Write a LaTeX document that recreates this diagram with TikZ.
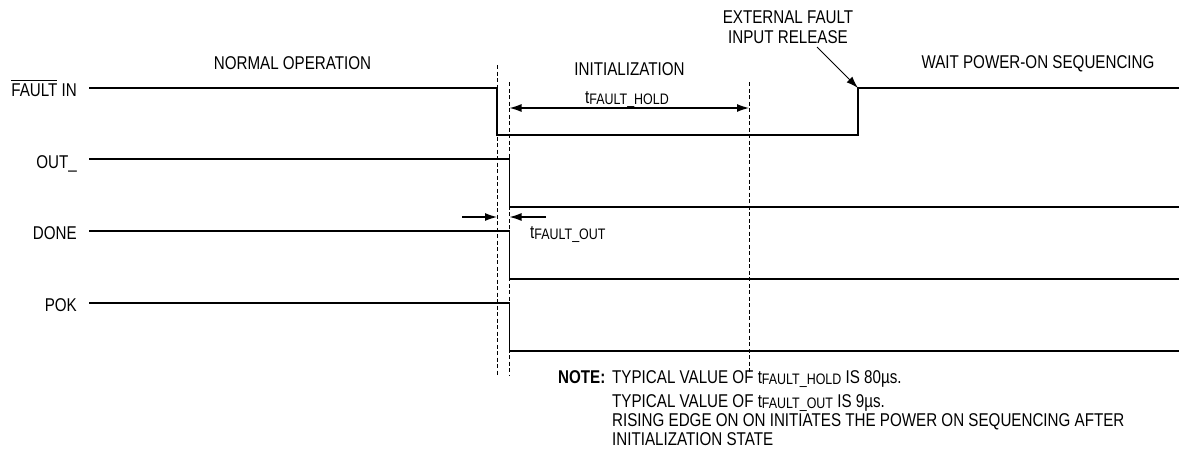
\documentclass[tikz,border=0pt]{standalone}
\usepackage{fontspec}
\setmainfont{Liberation Sans}[FakeStretch=0.82]
\usetikzlibrary{arrows.meta}
% time symbol with a smaller subscript-style name, e.g. t_FAULT_HOLD
\newcommand{\tsub}[1]{t\raisebox{-1.2pt}{\fontsize{15.2pt}{16pt}\selectfont #1}}
% active-low bar over a signal name
\newcommand{\barname}[1]{\leavevmode\vbox{\hrule height 1.1pt\kern 2.6pt\hbox{#1}}}

\begin{document}
\begin{tikzpicture}[x=1pt,y=-1pt,
  lbl/.style={inner sep=0pt, font=\fontsize{18.5pt}{20pt}\selectfont},
  sig/.style={line width=1.4pt, line join=miter},
  guide/.style={line width=0.9pt, dash pattern=on 4pt off 2.5pt},
  dimarrow/.style={line width=1.2pt, -{Latex[length=12pt,width=8pt]}},
  dimboth/.style={line width=1.2pt, {Latex[length=12pt,width=8pt]}-{Latex[length=12pt,width=8pt]}},
  callout/.style={line width=1pt, -{Latex[length=12pt,width=8pt]}}
]
\path[use as bounding box] (0,0) rectangle (1179,466);

% signal names
\node[lbl, anchor=base east] (lfault) at (77,96) {\barname{FAULT} IN};
\node[lbl, anchor=base east] (lout)   at (77,168) {OUT\_};
\node[lbl, anchor=base east] (ldone)  at (77,239) {DONE};
\node[lbl, anchor=base east] (lpok)   at (77,311) {POK};

% phase titles
\node[lbl, anchor=base] (normal) at (292.5,69) {NORMAL OPERATION};
\node[lbl, anchor=base] (init)   at (629.5,75) {INITIALIZATION};
\node[lbl, anchor=base] (wait)   at (1038,68) {WAIT POWER-ON SEQUENCING};
\node[lbl, anchor=base] (ext1)   at (788,23) {EXTERNAL FAULT};
\node[lbl, anchor=base] (ext2)   at (788,43) {INPUT RELEASE};

% vertical timing guides
\draw[guide] (497,65) -- (497,375);
\draw[guide] (509.5,82) -- (509.5,375);
\draw[guide] (749,82) -- (749,372);

% waveforms
\draw[sig] (89,88) -- (497,88) -- (497,135) -- (858,135) -- (858,88) -- (1179,88);
\draw[sig] (89,159) -- (509.5,159) -- (509.5,207) -- (1179,207);
\draw[sig] (89,231) -- (509.5,231) -- (509.5,279) -- (1179,279);
\draw[sig] (89,303) -- (509.5,303) -- (509.5,351) -- (1179,351);

% release callout
\coordinate (relstart) at (817,47);
\coordinate (release) at (858,88);
\draw[callout] (relstart) -- (release);

% t_FAULT_HOLD dimension
\coordinate (holdA) at (509.5,108);
\coordinate (holdB) at (749,108);
\draw[dimboth] (holdA) -- (holdB);
\node[lbl, anchor=base] (thold) at (627,103) {\tsub{FAULT\_HOLD}};

% t_FAULT_OUT dimension
\coordinate (outL0) at (462,217);
\coordinate (outL1) at (497,217);
\coordinate (outR0) at (546,217);
\coordinate (outR1) at (509.5,217);
\draw[dimarrow] (outL0) -- (outL1);
\draw[dimarrow] (outR0) -- (outR1);
\node[lbl, anchor=base west] (tout) at (530,238) {\tsub{FAULT\_OUT}};

% notes
\node[lbl, anchor=base west] (note)  at (558,383) {\textbf{NOTE:}};
\node[lbl, anchor=base west] (note1) at (612,383) {TYPICAL VALUE OF \tsub{FAULT\_HOLD} IS 80µs.};
\node[lbl, anchor=base west] (note2) at (612,407) {TYPICAL VALUE OF \tsub{FAULT\_OUT} IS 9µs.};
\node[lbl, anchor=base west] (note3) at (612,426) {RISING EDGE ON ON INITIATES THE POWER ON SEQUENCING AFTER};
\node[lbl, anchor=base west] (note4) at (612,445) {INITIALIZATION STATE};
\end{tikzpicture}
\end{document}
